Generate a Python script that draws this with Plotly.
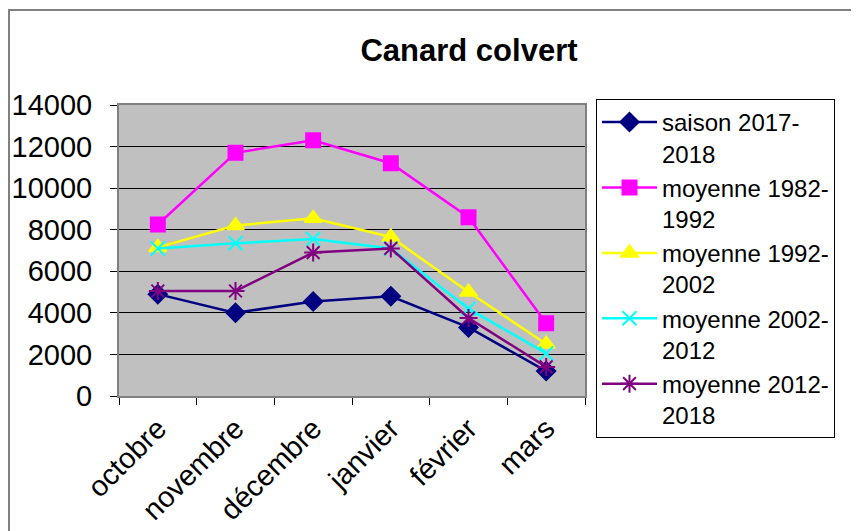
import plotly.graph_objects as go

# monthly counts
months = ["octobre", "novembre", "décembre", "janvier", "février", "mars"]
saison_2017_2018 = [4900, 4000, 4550, 4800, 3300, 1200]
moy_1982_1992 = [8250, 11700, 12300, 11200, 8600, 3500]
moy_1992_2002 = [7150, 8200, 8550, 7650, 5000, 2500]
moy_2002_2012 = [7100, 7350, 7550, 7100, 4200, 2050]
moy_2012_2018 = [5050, 5050, 6900, 7100, 3750, 1400]

font_family = "Arial, Liberation Sans, sans-serif"

series = [
    ("saison 2017-<br>2018", saison_2017_2018, "#000080", "diamond", 14),
    ("moyenne 1982-<br>1992", moy_1982_1992, "#FF00FF", "square", 14),
    ("moyenne 1992-<br>2002", moy_1992_2002, "#FFFF00", "triangle-up", 15),
    ("moyenne 2002-<br>2012", moy_2002_2012, "#00FFFF", "x-thin", 14),
    ("moyenne 2012-<br>2018", moy_2012_2018, "#800080", "asterisk", 15),
]

fig = go.Figure()
for name, vals, color, symbol, size in series:
    fig.add_trace(go.Scatter(
        x=months, y=vals, name=name, mode="lines+markers",
        line=dict(color=color, width=2.5),
        marker=dict(symbol=symbol, size=size, color=color,
                    line=dict(color=color, width=2)),
    ))

# page body has an 8px margin, so the figure is 8px smaller and shifted
W, H = 851, 523
L, R, T, B = 111, 274, 97, 135
pw, ph = W - L - R, H - T - B

# grey chart frame (top + left edge visible)
fig.add_shape(type="rect", xref="paper", yref="paper",
              x0=(1 - L) / pw, x1=(900 - L) / pw,
              y0=(H - B - 560) / ph, y1=(H - B - 2) / ph,
              line=dict(color="#808080", width=2), fillcolor="rgba(0,0,0,0)")

fig.update_layout(
    width=W, height=H,
    margin=dict(l=L, r=R, t=T, b=B, autoexpand=False),
    paper_bgcolor="white",
    plot_bgcolor="#C0C0C0",
    font=dict(family=font_family, size=26, color="black"),
    title=dict(text="<b>Canard colvert</b>", x=461 / W, xanchor="center",
               y=1 - 42 / H, yanchor="middle",
               font=dict(size=31, family=font_family)),
    legend=dict(
        xref="container", yref="container",
        x=588 / W, y=1 - 91 / H, xanchor="left", yanchor="top",
        bgcolor="white", bordercolor="black", borderwidth=1,
        font=dict(size=24), itemwidth=55, tracegroupgap=0,
        valign="top", maxheight=1,
    ),
    showlegend=True,
)

fig.update_xaxes(
    type="category", range=[-0.5, 5.5], tickson="boundaries",
    ticks="outside", ticklen=7, tickcolor="black", tickwidth=1,
    tickangle=-45, showgrid=False, ticklabelstandoff=2, automargin=False,
    showline=True, linecolor="#808080", linewidth=2, mirror=True,
    tickfont=dict(size=29),
)
fig.update_yaxes(
    range=[0, 14000], dtick=2000, tickformat="d",
    ticks="outside", ticklen=7, tickcolor="black", tickwidth=1,
    showgrid=True, gridcolor="black", gridwidth=1, ticklabelstandoff=12,
    showline=True, linecolor="#808080", linewidth=2, mirror=True,
    zeroline=False, tickfont=dict(size=29), automargin=False,
)

fig.write_html("out.html")
